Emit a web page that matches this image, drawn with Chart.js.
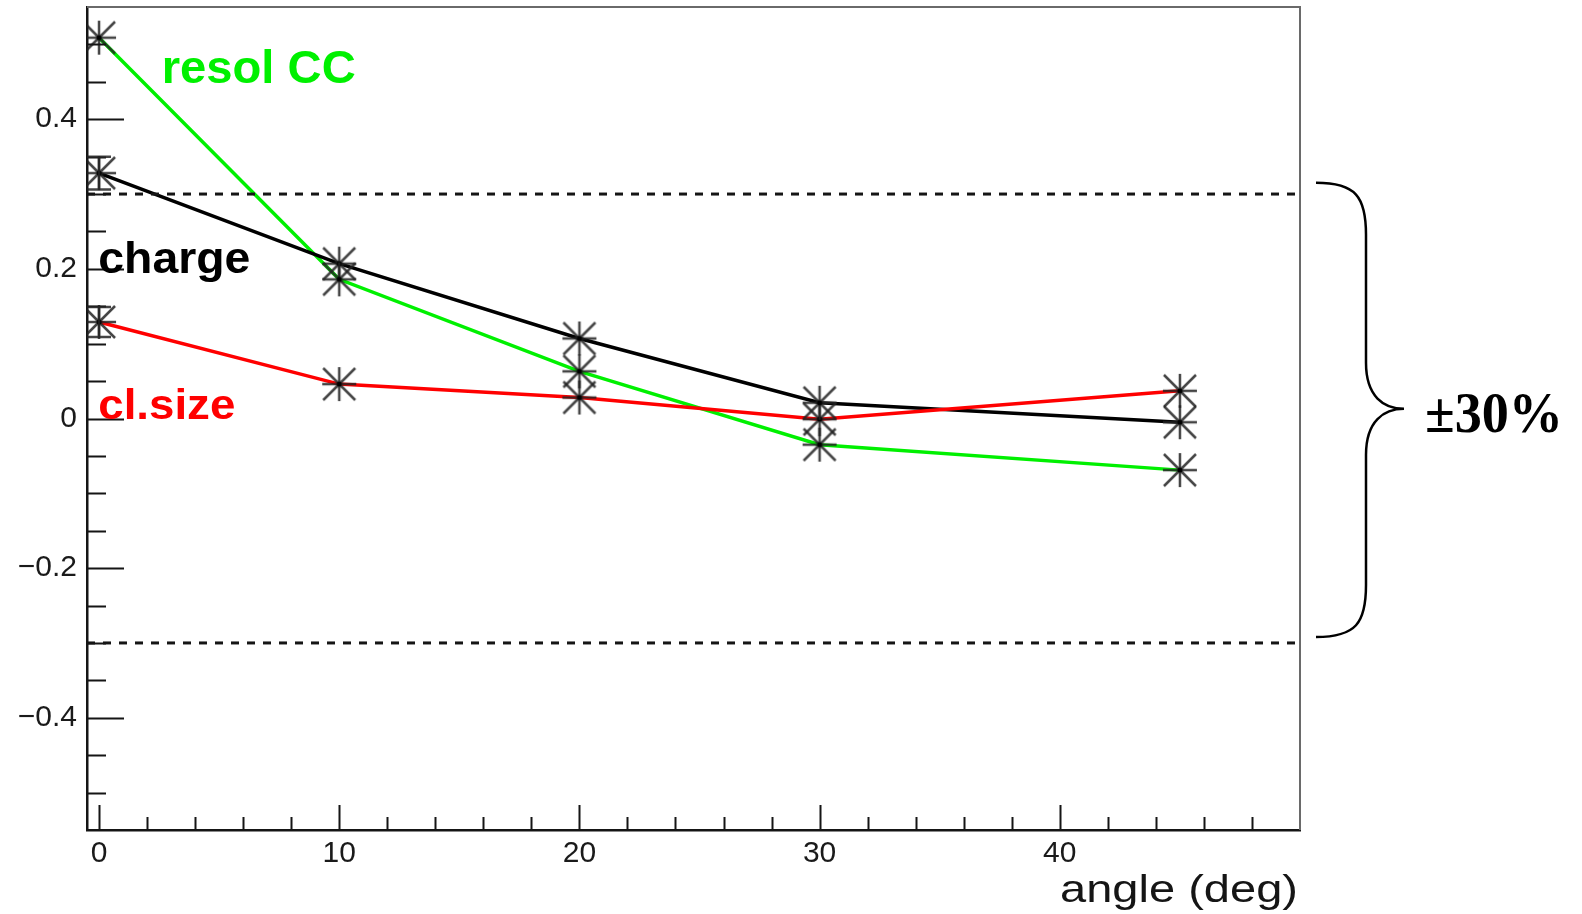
<!DOCTYPE html>
<html>
<head>
<meta charset="utf-8">
<script src="https://cdn.jsdelivr.net/npm/chart.js@4.4.0/dist/chart.umd.min.js"></script>
<style>
    html, body { margin: 0; padding: 0; background: #fff; }
    #chart { display: block; }
</style>
</head>
<body>
<canvas id="chart" width="1582" height="914"></canvas>
<script>
/* ------------------------------- Data -------------------------------*/

const ANGLES = [0, 10, 20, 30, 45];
const RESOL_CC = [0.509, 0.186, 0.063, -0.035, -0.069];
const CHARGE = [0.328, 0.207, 0.107, 0.021, -0.005];
const CL_SIZE = [0.129, 0.046, 0.028, -0.001, 0.037];
const CHARGE_ERR = [0.022, 0, 0, 0, 0];
const CL_SIZE_ERR = [0.02, 0, 0, 0, 0];

const LIMIT_X = [-0.5, 50];
const LIMIT_UP = [0.3, 0.3];
const LIMIT_DOWN = [-0.3, -0.3];

const X_TICKS = [0, 2, 4, 6, 8, 10, 12, 14, 16, 18, 20, 22, 24, 26, 28, 30, 32, 34, 36, 38, 40, 42, 44, 46, 48];
const X_LABELS = [0, 10, 20, 30, 40];
const Y_TICKS = [-0.5, -0.45, -0.4, -0.35, -0.3, -0.25, -0.2, -0.15, -0.1, -0.05, 0,
                 0.05, 0.1, 0.15, 0.2, 0.25, 0.3, 0.35, 0.4, 0.45, 0.5];
const Y_LABELS = [-0.4, -0.2, 0, 0.2, 0.4];

const GREEN = '#00f000';
const RED = '#ff0000';
const INK = '#151515';

/* ------------------------------- Helpers -------------------------------*/

function points(xs, ys) {
    return xs.map((x, i) => ({ x: x, y: ys[i] }));
}

function makeStar(half) {                       // маркер "зірочка" як у ROOT
    var c = document.createElement('canvas');
    var size = half * 2 + 4;
    c.width = size;
    c.height = size;
    var ctx = c.getContext('2d');
    var m = size / 2;
    ctx.strokeStyle = 'rgba(35,35,35,0.85)';
    ctx.lineWidth = 2.5;
    ctx.beginPath();
    ctx.moveTo(m - half, m); ctx.lineTo(m + half, m);
    ctx.moveTo(m, m - half); ctx.lineTo(m, m + half);
    ctx.moveTo(m - half + 1, m - half + 1); ctx.lineTo(m + half - 1, m + half - 1);
    ctx.moveTo(m - half + 1, m + half - 1); ctx.lineTo(m + half - 1, m - half + 1);
    ctx.stroke();
    ctx.fillStyle = '#000';
    ctx.beginPath();
    ctx.arc(m, m, 2.5, 0, Math.PI * 2);
    ctx.fill();
    return c;
}

function fitText(ctx, text, x, y, width, font, color, align) {
    ctx.save();
    ctx.font = font;
    var w = ctx.measureText(text).width;
    var sx = width / w;
    ctx.translate(align === 'right' ? x - width : x, y);
    ctx.scale(sx, 1);
    ctx.textAlign = 'left';
    ctx.textBaseline = 'alphabetic';
    ctx.fillStyle = color;
    ctx.fillText(text, 0, 0);
    ctx.restore();
}

function isIn(list, v) {
    return list.some(e => Math.abs(e - v) < 1e-9);
}

function lineSet(data, color, width, dash) {
    return {
        data: data,
        borderColor: color,
        borderWidth: width,
        borderDash: dash || [],
        pointRadius: 0,
        tension: 0,
        fill: false,
        order: 2
    };
}

function markerSet(data, star) {
    return {
        data: data,
        showLine: false,
        pointStyle: star,
        pointRadius: 17,
        borderWidth: 0,
        order: 1
    };
}

/* ------------------------------- Plugin -------------------------------*/

const rootStyle = {
    id: 'rootStyle',
    afterDatasetsDraw(chart) {
        var ctx = chart.ctx;
        var a = chart.chartArea;
        var xs = chart.scales.x;
        var ys = chart.scales.y;

        ctx.save();
        // верхня та права рамка
        ctx.strokeStyle = '#6a6a6a';
        ctx.lineWidth = 2;
        ctx.beginPath();
        ctx.moveTo(a.left, a.top);
        ctx.lineTo(a.right, a.top);
        ctx.lineTo(a.right, a.bottom);
        ctx.stroke();

        // внутрішні поділки
        ctx.strokeStyle = INK;
        ctx.lineWidth = 2;
        ctx.beginPath();
        X_TICKS.forEach(v => {
            var px = Math.round(xs.getPixelForValue(v)) + 0.5;
            var len = isIn(X_LABELS, v) ? 25 : 13;
            ctx.moveTo(px, a.bottom);
            ctx.lineTo(px, a.bottom - len);
        });
        Y_TICKS.forEach(v => {
            var py = Math.round(ys.getPixelForValue(v)) + 0.5;
            var len = isIn(Y_LABELS, v) ? 37 : 19;
            ctx.moveTo(a.left, py);
            ctx.lineTo(a.left + len, py);
        });
        ctx.stroke();

        // похибки
        ctx.strokeStyle = 'rgba(35,35,35,0.85)';
        ctx.lineWidth = 2.5;
        [[CHARGE, CHARGE_ERR], [CL_SIZE, CL_SIZE_ERR]].forEach(function (pair) {
            pair[0].forEach((v, i) => {
                var e = pair[1][i];
                if (!e) return;
                var px = xs.getPixelForValue(ANGLES[i]);
                var top = ys.getPixelForValue(v + e);
                var bot = ys.getPixelForValue(v - e);
                ctx.beginPath();
                ctx.moveTo(px, top); ctx.lineTo(px, bot);
                ctx.moveTo(px - 12, top); ctx.lineTo(px + 12, top);
                ctx.moveTo(px - 12, bot); ctx.lineTo(px + 12, bot);
                ctx.stroke();
            });
        });
        ctx.restore();
    },
    afterDraw(chart) {
        var ctx = chart.ctx;
        var a = chart.chartArea;
        var xs = chart.scales.x;
        var ys = chart.scales.y;

        fitText(ctx, 'resol CC', xs.getPixelForValue(2.61), ys.getPixelForValue(0.449),
            194, 'bold 47px "Liberation Sans"', GREEN);
        fitText(ctx, 'charge', xs.getPixelForValue(-0.03), ys.getPixelForValue(0.194),
            152, 'bold 45px "Liberation Sans"', '#000');
        fitText(ctx, 'cl.size', xs.getPixelForValue(-0.03), ys.getPixelForValue(0.0),
            137, 'bold 43px "Liberation Sans"', RED);
        fitText(ctx, 'angle (deg)', a.right - 2, 902, 238, '39px "Liberation Sans"', INK, 'right');

        // фігурна дужка ±30%
        var top = ys.getPixelForValue(0.315);
        var bot = ys.getPixelForValue(-0.292);
        var mid = ys.getPixelForValue(0.013);
        var x0 = a.right + 28, x1 = a.right + 66, x2 = a.right + 104;
        ctx.save();
        ctx.strokeStyle = '#000';
        ctx.lineWidth = 2.5;
        ctx.beginPath();
        ctx.moveTo(x0 - 12, top);
        ctx.bezierCurveTo(x0 + 28, top, x1, top + 14, x1, top + 52);
        ctx.lineTo(x1, mid - 46);
        ctx.bezierCurveTo(x1, mid - 12, x1 + 18, mid, x2, mid);
        ctx.bezierCurveTo(x1 + 18, mid, x1, mid + 12, x1, mid + 46);
        ctx.lineTo(x1, bot - 52);
        ctx.bezierCurveTo(x1, bot - 14, x0 + 28, bot, x0 - 12, bot);
        ctx.stroke();
        ctx.restore();

        fitText(ctx, '±30%', a.right + 125, 432, 138, 'bold 58px "Liberation Serif"', '#000');
    }
};

/* ------------------------------- Chart -------------------------------*/

const star = makeStar(17);

new Chart(document.getElementById('chart'), {
    type: 'line',
    data: {
        datasets: [
            lineSet(points(LIMIT_X, LIMIT_UP), INK, 3, [8, 8]),
            lineSet(points(LIMIT_X, LIMIT_DOWN), INK, 3, [8, 8]),
            lineSet(points(ANGLES, CL_SIZE), RED, 3.5),
            lineSet(points(ANGLES, CHARGE), '#000', 3.5),
            lineSet(points(ANGLES, RESOL_CC), GREEN, 3.5),
            markerSet(points(ANGLES, RESOL_CC), star),
            markerSet(points(ANGLES, CHARGE), star),
            markerSet(points(ANGLES, CL_SIZE), star)
        ]
    },
    options: {
        responsive: false,
        animation: false,
        devicePixelRatio: 1,
        layout: { autoPadding: false, padding: { left: 0, top: 7, right: 282, bottom: 0 } },
        plugins: {
            legend: { display: false },
            tooltip: { enabled: false }
        },
        scales: {
            x: {
                type: 'linear',
                min: -0.5,
                max: 50,
                grid: { display: false, drawTicks: false },
                border: { display: true, color: INK, width: 2.5 },
                afterBuildTicks: s => { s.ticks = X_TICKS.map(v => ({ value: v })); },
                afterFit: s => {
                    s.height = 84;
                    s.paddingLeft = 0;
                    s.paddingRight = 0;
                },
                ticks: {
                    autoSkip: false,
                    maxRotation: 0,
                    padding: 6,
                    color: '#1a1a1a',
                    font: { family: 'Liberation Sans', size: 30 },
                    callback: v => isIn(X_LABELS, v) ? String(v) : ''
                }
            },
            y: {
                type: 'linear',
                min: -0.55,
                max: 0.55,
                grid: { display: false, drawTicks: false },
                border: { display: true, color: INK, width: 2.5 },
                afterBuildTicks: s => { s.ticks = Y_TICKS.map(v => ({ value: v })); },
                afterFit: s => {
                    s.width = 87;
                    s.paddingTop = 0;
                    s.paddingBottom = 0;
                },
                ticks: {
                    autoSkip: false,
                    padding: 10,
                    color: '#1a1a1a',
                    font: { family: 'Liberation Sans', size: 30 },
                    callback: v => isIn(Y_LABELS, v) ? (v < 0 ? '\u2212' + Math.abs(v) : String(v)) : ''
                }
            }
        }
    },
    plugins: [rootStyle]
});
</script>
</body>
</html>
